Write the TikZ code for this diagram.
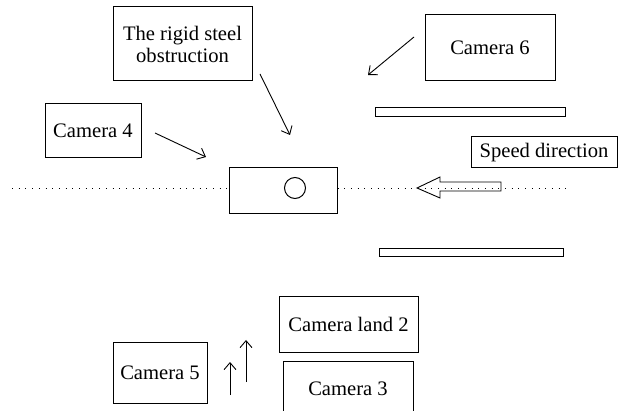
\documentclass[tikz,border=0pt]{standalone}
\usepackage{fontspec}
\setmainfont{Liberation Serif}
\usetikzlibrary{arrows.meta}
\begin{document}
\begin{tikzpicture}[x=1pt,y=-1pt,
  box/.style={draw,line width=1pt,inner sep=0pt,align=center,font=\fontsize{20.6}{22}\selectfont},
  bar/.style={draw,line width=1pt},
  pointer/.style={line width=0.9pt,-{Straight Barb[length=7pt,width=12pt]}},
  dotline/.style={line width=0.9pt,dash pattern=on 0.9pt off 5.8pt}]
\useasboundingbox (0,0) rectangle (618,411);
\clip (0,0) rectangle (618,411);
\fill[white] (0,0) rectangle (618,411);
% boxes
\node[box,minimum width=139pt,minimum height=74pt] (steel) at (182.5,44) {The rigid steel\\ obstruction};
\node[box,minimum width=96pt,minimum height=54pt] (cam4) at (93,131) {Camera 4};
\node[box,minimum width=130pt,minimum height=66pt] (cam6) at (490,48) {Camera 6};
\node[box,minimum width=146pt,minimum height=31pt] (speed) at (544,152.5) {Speed direction};
\node[box,minimum width=108pt,minimum height=46pt] (vehicle) at (283,191) {};
\node[draw,line width=1pt,circle,minimum size=21pt,inner sep=0pt] (wheel) at (295,188) {};
\node[box,minimum width=94pt,minimum height=61pt] (cam5) at (160,372.5) {Camera 5};
\node[box,minimum width=139pt,minimum height=55pt] (land2) at (348.5,324.5) {Camera land 2};
\node[box,minimum width=130pt,minimum height=56pt] (cam3) at (348,389) {Camera 3};
% rails
\draw[bar] (375,108) rectangle (565,117);
\draw[bar] (379,249) rectangle (563,257);
% dotted centre line
\coordinate (lineL) at (12,188);
\coordinate (lineR) at (567,188);
\draw[dotline] (lineL) -- (vehicle.west |- lineL);
\draw[dotline] (vehicle.east |- lineR) -- (lineR);
% speed arrow
\draw[line width=0.9pt,line join=miter] (417,188) -- (440,177) -- (440,182) -- (501,182) -- (501,191) -- (440,191) -- (440,198) -- cycle;
% pointers
\coordinate (s1) at (260,74); \coordinate (s2) at (290,135);
\coordinate (c41) at (155,133); \coordinate (c42) at (206,157);
\coordinate (c61) at (414,37); \coordinate (c62) at (368,75);
\coordinate (u1a) at (230,395); \coordinate (u1b) at (230,362);
\coordinate (u2a) at (246,382); \coordinate (u2b) at (246,340);
\draw[pointer] (s1) -- (s2);
\draw[pointer] (c41) -- (c42);
\draw[pointer] (c61) -- (c62);
\draw[pointer] (u1a) -- (u1b);
\draw[pointer] (u2a) -- (u2b);
\end{tikzpicture}
\end{document}
